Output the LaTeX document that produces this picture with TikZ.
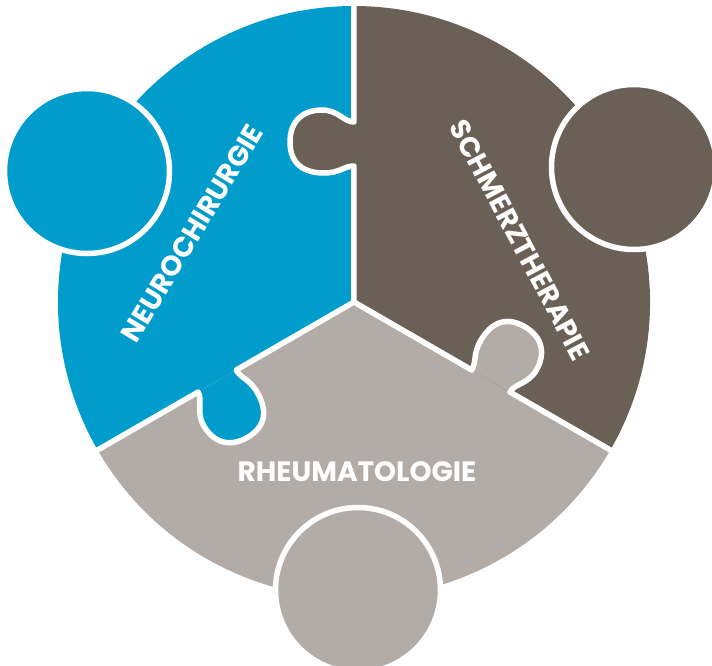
\documentclass[tikz,border=0pt]{standalone}
\usepackage{fontspec}
\setmainfont{Poppins}
\usepackage{xcolor}
\definecolor{neuroBlue}{RGB}{0,156,204}
\definecolor{schmerzBrown}{RGB}{106,96,86}
\definecolor{rheumaGray}{RGB}{179,172,166}
\usetikzlibrary{calc}
\tikzstyle{sepline}=[draw=white, line width=5.5pt, line join=round, line cap=round]
\tikzstyle{bubble}=[circle, draw=white, line width=5.5pt, minimum size=165pt, inner sep=0pt]
\tikzstyle{piecetext}=[text=white, font=\bfseries\fontsize{28}{28}\selectfont]

\begin{document}
\begin{tikzpicture}[x=1pt,y=1pt]
        \useasboundingbox (-354,-363) rectangle (358,302);
        % the three pieces
        \fill[neuroBlue] (0,0) -- (90:296) arc[start angle=90, end angle=210, radius=296] -- cycle;
        \fill[rheumaGray] (0,0) -- (210:296) arc[start angle=210, end angle=330, radius=296] -- cycle;
        \fill[schmerzBrown] (0,0) -- (-30:296) arc[start angle=-30, end angle=90, radius=296] -- cycle;
        % knobs and seams
        \foreach \ang/\col in {90/schmerzBrown, 210/neuroBlue, 330/rheumaGray} {
          \begin{scope}[rotate=\ang]
            \fill[\col] (136,0) .. controls (136,10) and (129,14) .. (129,30)
              .. controls (129,50) and (138,64) .. (160,64)
              .. controls (182,64) and (192,50) .. (192,32)
              .. controls (192,16) and (180,10) .. (180,0) -- cycle;
            \draw[sepline] (0,0) -- (136,0) .. controls (136,10) and (129,14) .. (129,30)
              .. controls (129,50) and (138,64) .. (160,64)
              .. controls (182,64) and (192,50) .. (192,32)
              .. controls (192,16) and (180,10) .. (180,0) -- (300,0);
          \end{scope}
        }
        \node[bubble, fill=neuroBlue] (bubbleNeuro) at (-267,131) {};
        \node[bubble, fill=schmerzBrown] (bubbleSchmerz) at (280,135) {};
        \node[bubble, fill=rheumaGray] (bubbleRheuma) at (4,-288) {};
        \node[piecetext, rotate=59] (neuro) at (-162,69) {NEUROCHIRURGIE};
        \node[piecetext, rotate=-62] (schmerz) at (166,62) {SCHMERZTHERAPIE};
        \node[piecetext] (rheuma) at (3,-170) {RHEUMATOLOGIE};
      \end{tikzpicture}
\end{document}
